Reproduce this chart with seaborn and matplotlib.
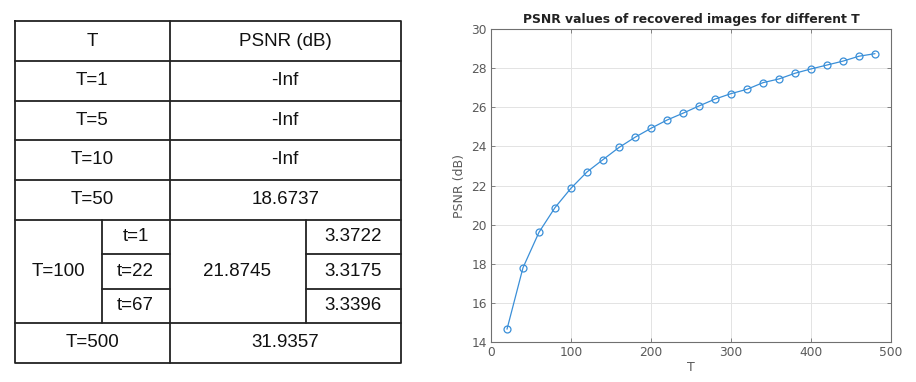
import numpy as np
import pandas as pd
import seaborn as sns
import matplotlib
matplotlib.use("Agg")
import matplotlib.pyplot as plt

# ---- data ----
T_values = [20, 40, 60, 80, 100, 120, 140, 160, 180, 200, 220, 240,
            260, 280, 300, 320, 340, 360, 380, 400, 420, 440, 460, 480]
psnr_values = [14.67, 17.81, 19.62, 20.88, 21.87, 22.70, 23.33, 23.95,
               24.47, 24.93, 25.35, 25.70, 26.07, 26.42, 26.70, 26.92,
               27.26, 27.45, 27.74, 27.96, 28.16, 28.36, 28.61, 28.74]
x_ticks = [0, 100, 200, 300, 400, 500]
y_ticks = [14, 16, 18, 20, 22, 24, 26, 28, 30]

table_header = ["T", "PSNR (dB)"]
table_simple_T = ["T=1", "T=5", "T=10", "T=50"]
table_simple_psnr = ["-Inf", "-Inf", "-Inf", "18.6737"]
t100_label = "T=100"
t100_sub_t = ["t=1", "t=22", "t=67"]
t100_psnr = "21.8745"
t100_sub_vals = ["3.3722", "3.3175", "3.3396"]
last_T = "T=500"
last_psnr = "31.9357"

sns.set_theme(style="white")
plt.rcParams['font.family'] = ['DejaVu Sans']

fig = plt.figure(figsize=(9.16, 3.82), dpi=100)

# ---- table (left) ----
tax = fig.add_axes([0, 0, 1, 1])
tax.set_xlim(0, 916)
tax.set_ylim(382, 0)
tax.axis("off")
tax.patch.set_alpha(0)

xl, xm, xr = 15, 169.5, 401
xsub, xsub2 = 101.5, 305.5
row_y = [21, 61, 100.5, 140, 180, 219.5]
sub_y = [219.5, 254, 288.5, 323]
y_end = 362.5
lw = 1.3
lc = "#222222"
fs = 13.5
tfont = dict(family=["Liberation Sans", "DejaVu Sans"], fontsize=fs, color="#111111",
             ha="center", va="center")

# outer box
tax.plot([xl, xr, xr, xl, xl], [row_y[0], row_y[0], y_end, y_end, row_y[0]], color=lc, lw=lw)
for y in row_y[1:] + [sub_y[-1]]:
    tax.plot([xl, xr], [y, y], color=lc, lw=lw)
tax.plot([xm, xm], [row_y[0], y_end], color=lc, lw=lw)
tax.plot([xsub, xsub], [sub_y[0], sub_y[-1]], color=lc, lw=lw)
tax.plot([xsub2, xsub2], [sub_y[0], sub_y[-1]], color=lc, lw=lw)
for y in sub_y[1:-1]:
    tax.plot([xsub, xm], [y, y], color=lc, lw=lw)
    tax.plot([xsub2, xr], [y, y], color=lc, lw=lw)

tax.text((xl + xm) / 2, (row_y[0] + row_y[1]) / 2, table_header[0], **tfont)
tax.text((xm + xr) / 2, (row_y[0] + row_y[1]) / 2, table_header[1], **tfont)
for i, (a, b) in enumerate(zip(table_simple_T, table_simple_psnr)):
    yc = (row_y[i + 1] + row_y[i + 2]) / 2
    tax.text((xl + xm) / 2, yc, a, **tfont)
    tax.text((xm + xr) / 2, yc, b, **tfont)
tax.text((xl + xsub) / 2, (sub_y[0] + sub_y[-1]) / 2, t100_label, **tfont)
tax.text((xm + xsub2) / 2, (sub_y[0] + sub_y[-1]) / 2, t100_psnr, **tfont)
for i in range(3):
    yc = (sub_y[i] + sub_y[i + 1]) / 2
    tax.text((xsub + xm) / 2, yc, t100_sub_t[i], **tfont)
    tax.text((xsub2 + xr) / 2, yc, t100_sub_vals[i], **tfont)
tax.text((xl + xm) / 2, (sub_y[-1] + y_end) / 2, last_T, **tfont)
tax.text((xm + xr) / 2, (sub_y[-1] + y_end) / 2, last_psnr, **tfont)

# ---- line chart (right) ----
ax = fig.add_axes([491 / 916, (382 - 342.3) / 382, 400 / 916, 313.3 / 382])
df = pd.DataFrame({"T": T_values, "PSNR": psnr_values})
blue = "#3a8fd8"
sns.lineplot(data=df, x="T", y="PSNR", ax=ax, color=blue, lw=0.9,
             marker="o", markersize=5, markerfacecolor="none",
             markeredgecolor=blue, markeredgewidth=0.9)
ax.set_xlim(0, 500)
ax.set_ylim(14, 30)
ax.set_xticks(x_ticks)
ax.set_yticks(y_ticks)
ax.grid(True, color="#e3e3e3", lw=0.7)
ax.set_axisbelow(True)
for s in ax.spines.values():
    s.set_visible(True)
    s.set_color("#707070")
    s.set_linewidth(0.8)
ax.tick_params(direction="in", length=3, width=0.6, color="#707070",
               labelsize=8.8, labelcolor="#5a5a5a", top=True, right=True,
               bottom=True, left=True, pad=3)
ax.set_xlabel("T", fontsize=9, color="#5a5a5a", labelpad=1)
ax.set_ylabel("PSNR (dB)", fontsize=9, color="#5a5a5a", labelpad=4)
ax.set_title("PSNR values of recovered images for different T",
             fontsize=8.9, fontweight="bold", color="#222222", pad=4)

fig.savefig("out.png", dpi=100)
